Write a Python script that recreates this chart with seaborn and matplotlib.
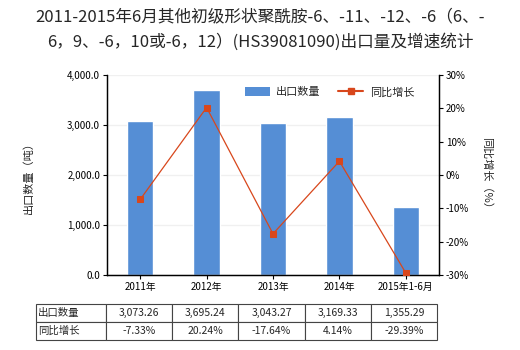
import matplotlib
matplotlib.use("Agg")
import matplotlib.pyplot as plt
import seaborn as sns
import pandas as pd
from matplotlib.ticker import FuncFormatter
from matplotlib.patches import Patch
from matplotlib.lines import Line2D

categories = ["2011年", "2012年", "2013年", "2014年", "2015年1-6月"]
export_qty = [3073.26, 3695.24, 3043.27, 3169.33, 1355.29]
growth = [-7.33, 20.24, -17.64, 4.14, -29.39]
qty_labels = ["3,073.26", "3,695.24", "3,043.27", "3,169.33", "1,355.29"]
growth_labels = ["-7.33%", "20.24%", "-17.64%", "4.14%", "-29.39%"]

sns.set_theme(style="white")
plt.rcParams["font.family"] = ["Noto Sans CJK SC", "DejaVu Sans"]
plt.rcParams["axes.unicode_minus"] = False

bar_color = "#558ed5"
line_color = "#d8471c"

df = pd.DataFrame({"cat": categories, "qty": export_qty, "growth": growth})

fig = plt.figure(figsize=(5.2, 3.5), dpi=100)
ax = fig.add_axes([107 / 520, 1 - 275 / 350, 332 / 520, 200 / 350])

sns.barplot(data=df, x="cat", y="qty", color=bar_color, width=0.4,
            saturation=1, ax=ax, zorder=2)
ax.set_ylim(0, 4000)
ax.set_xlim(-0.5, 4.5)
ax.set_yticks([0, 1000, 2000, 3000, 4000])
ax.yaxis.set_major_formatter(FuncFormatter(lambda v, p: f"{v:,.1f}"))
ax.grid(axis="y", color="#f0f0f0", linewidth=1, zorder=0)
ax.set_axisbelow(True)
ax.set_xlabel("")
ax.set_ylabel("出口数量（吨）", fontsize=8, labelpad=24)
ax.tick_params(axis="both", labelsize=7, length=3, width=0.8, colors="black",
               direction="out", pad=2)
ax.yaxis.set_tick_params(left=True)
ax.xaxis.set_tick_params(bottom=True)
for s in ["left", "bottom", "right"]:
    ax.spines[s].set_color("black")
    ax.spines[s].set_linewidth(0.9)
ax.spines["top"].set_visible(False)

ax2 = ax.twinx()
sns.lineplot(data=df, x="cat", y="growth", color=line_color, linewidth=0.9,
             marker="s", markersize=4.5, markeredgecolor=line_color,
             markerfacecolor=line_color, ax=ax2, zorder=3, sort=False)
ax2.set_ylim(-30, 30)
ax2.set_yticks([-30, -20, -10, 0, 10, 20, 30])
ax2.yaxis.set_major_formatter(FuncFormatter(lambda v, p: f"{v:.0f}%"))
ax2.set_ylabel("同比增长（%）", fontsize=8, rotation=-90, labelpad=16)
ax2.tick_params(axis="y", labelsize=7, length=3, width=0.8, colors="black",
                direction="out", pad=2)
ax2.yaxis.set_tick_params(right=True)
ax2.grid(False)
for s in ["left", "bottom", "right"]:
    ax2.spines[s].set_color("black")
    ax2.spines[s].set_linewidth(0.9)
ax2.spines["top"].set_visible(False)
ax2.set_xlim(-0.5, 4.5)

handles = [Patch(facecolor=bar_color, edgecolor="none"),
           Line2D([0], [0], color=line_color, linewidth=1.5, marker="s",
                  markersize=4)]
ax2.legend(handles, ["出口数量", "同比增长"], loc="upper right",
           bbox_to_anchor=(0.955, 0.99), ncol=2, frameon=False, fontsize=8,
           handlelength=2.2, handleheight=0.9, columnspacing=1.6,
           handletextpad=0.6)

fig.suptitle("2011-2015年6月其他初级形状聚酰胺-6、-11、-12、-6（6、-\n6，9、-6，10或-6，12）(HS39081090)出口量及增速统计",
             fontsize=12, y=0.975, linespacing=1.55)

# data table below the chart
cell_text = [["出口数量"] + qty_labels, ["同比增长"] + growth_labels]
x0 = (36 - 107) / 332
w = (437 - 36) / 332
tbl = ax.table(cellText=cell_text, cellLoc="center",
               colWidths=[70 / 401] + [66.2 / 401] * 5,
               bbox=[x0, (275 - 340) / 200, w, 36 / 200])
tbl.auto_set_font_size(False)
tbl.set_fontsize(7.5)
for (r, c), cell in tbl.get_celld().items():
    cell.set_edgecolor("#444444")
    cell.set_linewidth(0.8)
    if c == 0:
        cell.set_text_props(ha="left")
        cell._loc = "left"
        cell.PAD = 0.03

fig.savefig("out.png", dpi=100)
